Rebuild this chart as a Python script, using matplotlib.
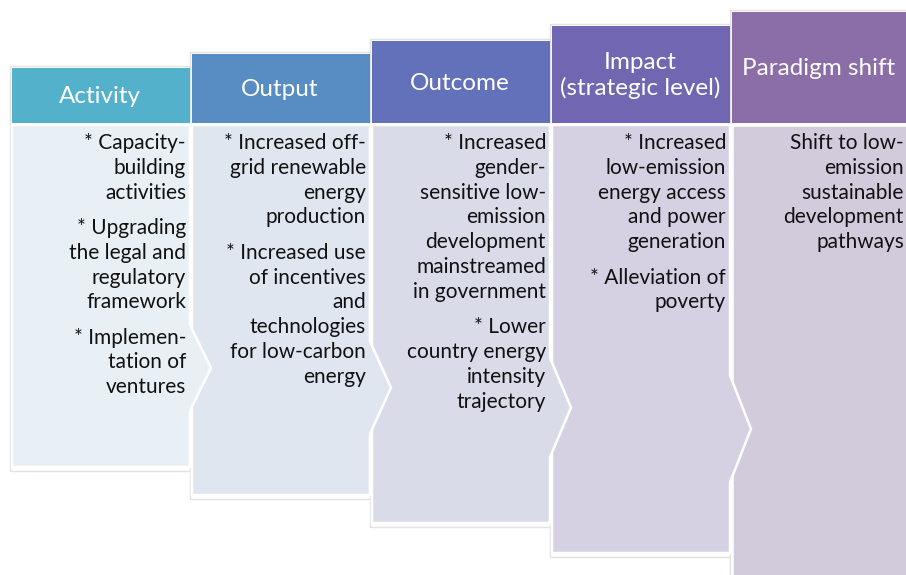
import matplotlib
matplotlib.use("Agg")
import matplotlib.pyplot as plt
from matplotlib.patches import Polygon, Rectangle

# ---- content ----
HEADERS = ["Activity", "Output", "Outcome", "Impact\n(strategic level)", "Paradigm shift"]

ITEMS = [
    [["* Capacity-", "building", "activities"],
     ["* Upgrading", "the legal and", "regulatory", "framework"],
     ["* Implemen-", "tation of", "ventures"]],
    [["* Increased off-", "grid renewable", "energy", "production"],
     ["* Increased use", "of incentives", "and", "technologies", "for low-carbon", "energy"]],
    [["* Increased", "gender-", "sensitive low-", "emission", "development", "mainstreamed", "in government"],
     ["* Lower", "country energy", "intensity", "trajectory"]],
    [["* Increased", "low-emission", "energy access", "and power", "generation"],
     ["* Alleviation of", "poverty"]],
    [["Shift to low-", "emission", "sustainable", "development", "pathways"]],
]

HEADER_COLORS = ["#53B1CB", "#588DC4", "#6271B9", "#7166B1", "#8B6DA7"]
BODY_COLORS = ["#E9F0F5", "#E0E6F0", "#D9DBE8", "#D5D1E3", "#D2CBDC"]

# ---- layout (pixels, y grows downward) ----
W, H = 906, 575
COL_LEFT = [12, 192, 372, 552, 732]
COL_W = 178
HEADER_TOP = [68, 54, 41, 26, 12]
HEADER_BOTTOM = 123
BODY_TOP = 125
BODY_BOTTOM = [467, 495, 523, 553, 580]
TIP_DEPTH = 21
TEXT_TOP = 143
LINE_STEP = 24.8
PARA_GAP = 10.5

fig = plt.figure(figsize=(W / 100, H / 100), dpi=100)
ax = fig.add_axes([0, 0, 1, 1])
ax.set_xlim(0, W)
ax.set_ylim(H, 0)
ax.axis("off")

FONT = "Lato"

# faint outlines behind each column
for i in range(5):
    x0 = COL_LEFT[i] - 2
    y0 = HEADER_TOP[i] - 2
    ax.add_patch(Rectangle((x0, y0), COL_W + 2, BODY_BOTTOM[i] + 4 - y0,
                           facecolor="none", edgecolor="#E2E2E2", lw=1, zorder=1))

# bodies drawn right to left so each arrow tip overlaps the next column
for i in reversed(range(5)):
    x0 = COL_LEFT[i]
    x1 = x0 + COL_W
    yb = BODY_BOTTOM[i]
    h = yb - BODY_TOP
    if i < 4:
        cy = BODY_TOP + 0.71 * h
        hh = 0.125 * h
        pts = [(x0, BODY_TOP), (x1, BODY_TOP), (x1, cy - hh), (x1 + TIP_DEPTH, cy),
               (x1, cy + hh), (x1, yb), (x0, yb)]
    else:
        pts = [(x0, BODY_TOP), (x1 + 10, BODY_TOP), (x1 + 10, yb), (x0, yb)]
    ax.add_patch(Polygon(pts, closed=True, facecolor=BODY_COLORS[i], edgecolor="white",
                         lw=1.8, joinstyle="miter", zorder=2 + (4 - i) * 0.1))

    # header
    ax.add_patch(Rectangle((x0, HEADER_TOP[i]), COL_W + (10 if i == 4 else 0),
                           HEADER_BOTTOM - HEADER_TOP[i],
                           facecolor=HEADER_COLORS[i], edgecolor="none", zorder=3))
    hx = x0 + COL_W / 2 + (-1 if i < 4 else -2)
    hy = (HEADER_TOP[i] + HEADER_BOTTOM) / 2 + 1
    ax.text(hx, hy, HEADERS[i], color="white", fontsize=17.5, family=FONT,
            ha="center", va="center", linespacing=1.2, zorder=4)

    # body text, right aligned
    tx = x1 - 4 if i < 4 else 904
    y = TEXT_TOP
    for para in ITEMS[i]:
        for line in para:
            ax.text(tx, y, line, color="#111111", fontsize=15, family=FONT,
                    ha="right", va="center", zorder=5)
            y += LINE_STEP
        y += PARA_GAP

fig.savefig("out.png", dpi=100, facecolor="white")
